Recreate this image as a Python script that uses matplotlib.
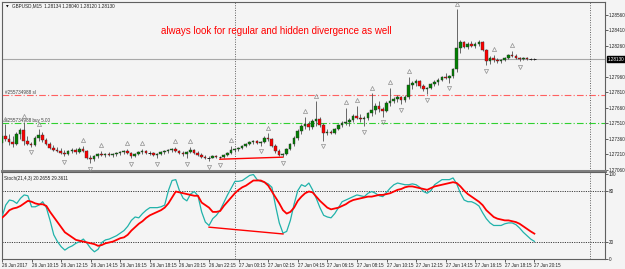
"""GBPUSD M15 candles with fractals and a Stochastic(21,4,3) pane, MT4 style."""

import numpy as np
import matplotlib
matplotlib.use("Agg")
import matplotlib.pyplot as plt
from matplotlib.transforms import offset_copy, blended_transform_factory

# ---------------------------------------------------------------------------
# Data
# ---------------------------------------------------------------------------

opens = [
    1.2732, 1.2738, 1.2736, 1.2733, 1.2731, 1.2740, 1.2744, 1.2734, 1.2731, 1.2730,
    1.2737, 1.2739, 1.2735, 1.2731, 1.2727, 1.2725, 1.2724, 1.2722, 1.2721, 1.2724,
    1.2725, 1.2723, 1.2726, 1.2724, 1.2717, 1.2716, 1.2719, 1.2721, 1.2720, 1.2721,
    1.2720, 1.2721, 1.2722, 1.2723, 1.2724, 1.2722, 1.2719, 1.2721, 1.2723, 1.2724,
    1.2722, 1.2722, 1.2720, 1.2721, 1.2723, 1.2724, 1.2725, 1.2726, 1.2724, 1.2722,
    1.2721, 1.2723, 1.2725, 1.2722, 1.2720, 1.2718, 1.2717, 1.2717, 1.2719, 1.2718,
    1.2718, 1.2720, 1.2722, 1.2725, 1.2726, 1.2727, 1.2729, 1.2731, 1.2733, 1.2734,
    1.2732, 1.2733, 1.2737, 1.2736, 1.2729, 1.2724, 1.2720, 1.2721, 1.2726, 1.2731,
    1.2737, 1.2743, 1.2748, 1.2750, 1.2747, 1.2753, 1.2755, 1.2749, 1.2741, 1.2742,
    1.2741, 1.2745, 1.2749, 1.2751, 1.2752, 1.2754, 1.2758, 1.2756, 1.2755, 1.2756,
    1.2761, 1.2764, 1.2768, 1.2765, 1.2763, 1.2770, 1.2772, 1.2774, 1.2776, 1.2773,
    1.2776, 1.2788, 1.2790, 1.2792, 1.2787, 1.2784, 1.2785, 1.2789, 1.2791, 1.2793,
    1.2796, 1.2795, 1.2797, 1.2803, 1.2824, 1.2829, 1.2825, 1.2828, 1.2826, 1.2828,
    1.2829, 1.2822, 1.2811, 1.2814, 1.2812, 1.2811, 1.2812, 1.2814, 1.2817, 1.2816,
    1.2814, 1.2813, 1.2814, 1.2813, 1.2813,
]
highs = [
    1.2740, 1.2750, 1.2740, 1.2738, 1.2742, 1.2746, 1.2752, 1.2738, 1.2733, 1.2738,
    1.2745, 1.2742, 1.2737, 1.2733, 1.2730, 1.2728, 1.2727, 1.2725, 1.2725, 1.2727,
    1.2727, 1.2728, 1.2729, 1.2725, 1.2720, 1.2720, 1.2722, 1.2724, 1.2722, 1.2723,
    1.2722, 1.2723, 1.2724, 1.2725, 1.2726, 1.2723, 1.2722, 1.2724, 1.2726, 1.2725,
    1.2724, 1.2723, 1.2722, 1.2724, 1.2725, 1.2726, 1.2727, 1.2728, 1.2725, 1.2724,
    1.2724, 1.2728, 1.2726, 1.2724, 1.2722, 1.2720, 1.2719, 1.2720, 1.2720, 1.2719,
    1.2721, 1.2723, 1.2729, 1.2727, 1.2728, 1.2730, 1.2732, 1.2734, 1.2735, 1.2735,
    1.2734, 1.2738, 1.2741, 1.2737, 1.2731, 1.2726, 1.2722, 1.2727, 1.2732, 1.2738,
    1.2745, 1.2750, 1.2757, 1.2753, 1.2755, 1.2772, 1.2757, 1.2751, 1.2745, 1.2744,
    1.2746, 1.2750, 1.2753, 1.2766, 1.2756, 1.2760, 1.2768, 1.2760, 1.2758, 1.2762,
    1.2780, 1.2770, 1.2772, 1.2767, 1.2772, 1.2785, 1.2776, 1.2778, 1.2777, 1.2778,
    1.2796, 1.2792, 1.2794, 1.2793, 1.2789, 1.2786, 1.2790, 1.2793, 1.2795, 1.2797,
    1.2799, 1.2798, 1.2804, 1.2861, 1.2831, 1.2830, 1.2829, 1.2830, 1.2829, 1.2831,
    1.2830, 1.2823, 1.2816, 1.2817, 1.2814, 1.2813, 1.2815, 1.2818, 1.2821, 1.2818,
    1.2815, 1.2815, 1.2815, 1.2814, 1.2814,
]
lows = [
    1.2726, 1.2734, 1.2730, 1.2728, 1.2730, 1.2736, 1.2730, 1.2730, 1.2728, 1.2729,
    1.2734, 1.2733, 1.2730, 1.2726, 1.2724, 1.2723, 1.2721, 1.2719, 1.2720, 1.2722,
    1.2721, 1.2722, 1.2723, 1.2716, 1.2712, 1.2714, 1.2717, 1.2719, 1.2718, 1.2719,
    1.2718, 1.2719, 1.2720, 1.2721, 1.2721, 1.2717, 1.2718, 1.2720, 1.2721, 1.2721,
    1.2720, 1.2719, 1.2717, 1.2720, 1.2721, 1.2722, 1.2723, 1.2723, 1.2721, 1.2719,
    1.2717, 1.2722, 1.2721, 1.2719, 1.2717, 1.2716, 1.2714, 1.2717, 1.2717, 1.2716,
    1.2717, 1.2719, 1.2721, 1.2723, 1.2724, 1.2726, 1.2728, 1.2730, 1.2731, 1.2731,
    1.2729, 1.2732, 1.2734, 1.2728, 1.2722, 1.2719, 1.2718, 1.2720, 1.2725, 1.2729,
    1.2735, 1.2740, 1.2745, 1.2744, 1.2745, 1.2748, 1.2747, 1.2734, 1.2739, 1.2740,
    1.2740, 1.2744, 1.2747, 1.2749, 1.2748, 1.2752, 1.2755, 1.2752, 1.2748, 1.2754,
    1.2758, 1.2760, 1.2762, 1.2757, 1.2762, 1.2768, 1.2770, 1.2771, 1.2769, 1.2771,
    1.2774, 1.2784, 1.2787, 1.2785, 1.2782, 1.2779, 1.2784, 1.2787, 1.2788, 1.2792,
    1.2794, 1.2790, 1.2795, 1.2800, 1.2819, 1.2824, 1.2823, 1.2825, 1.2824, 1.2826,
    1.2821, 1.2807, 1.2808, 1.2810, 1.2809, 1.2809, 1.2811, 1.2813, 1.2815, 1.2813,
    1.2811, 1.2812, 1.2812, 1.2812, 1.2812,
]
closes = [
    1.2738, 1.2736, 1.2733, 1.2731, 1.2740, 1.2744, 1.2734, 1.2731, 1.2730, 1.2737,
    1.2739, 1.2735, 1.2731, 1.2727, 1.2725, 1.2724, 1.2722, 1.2721, 1.2724, 1.2725,
    1.2723, 1.2726, 1.2724, 1.2717, 1.2716, 1.2719, 1.2721, 1.2720, 1.2721, 1.2720,
    1.2721, 1.2722, 1.2723, 1.2724, 1.2722, 1.2719, 1.2721, 1.2723, 1.2724, 1.2722,
    1.2722, 1.2720, 1.2721, 1.2723, 1.2724, 1.2725, 1.2726, 1.2724, 1.2722, 1.2721,
    1.2723, 1.2725, 1.2722, 1.2720, 1.2718, 1.2717, 1.2717, 1.2719, 1.2718, 1.2718,
    1.2720, 1.2722, 1.2725, 1.2726, 1.2727, 1.2729, 1.2731, 1.2733, 1.2734, 1.2732,
    1.2733, 1.2737, 1.2736, 1.2729, 1.2724, 1.2720, 1.2721, 1.2726, 1.2731, 1.2737,
    1.2743, 1.2748, 1.2750, 1.2747, 1.2753, 1.2755, 1.2749, 1.2741, 1.2742, 1.2741,
    1.2745, 1.2749, 1.2751, 1.2752, 1.2754, 1.2758, 1.2756, 1.2755, 1.2756, 1.2761,
    1.2764, 1.2768, 1.2765, 1.2763, 1.2770, 1.2772, 1.2774, 1.2776, 1.2773, 1.2776,
    1.2788, 1.2790, 1.2792, 1.2787, 1.2784, 1.2785, 1.2789, 1.2791, 1.2793, 1.2796,
    1.2795, 1.2797, 1.2803, 1.2824, 1.2829, 1.2825, 1.2828, 1.2826, 1.2828, 1.2829,
    1.2822, 1.2811, 1.2814, 1.2812, 1.2811, 1.2812, 1.2814, 1.2817, 1.2816, 1.2814,
    1.2813, 1.2814, 1.2813, 1.2813, 1.2813,
]

# fractal bars (indices into the bar lists)
fractal_up = [1, 6, 10, 22, 27, 34, 38, 47, 51, 62, 72, 82, 85, 93, 96, 100,
              105, 110, 123, 133, 138]
fractal_down = [8, 17, 24, 35, 42, 50, 56, 59, 70, 76, 87, 98, 103, 108, 115,
                121, 131, 140]

stoch_main = [
    49, 63, 69, 68, 65, 71, 75, 74, 61, 61, 63, 67, 60, 45, 28, 20, 14, 10, 13, 15,
    18, 20, 23, 18, 12, 8, 11, 19, 22, 23, 25, 27, 30, 33, 38, 45, 49, 48, 53, 57,
    60, 60, 60, 61, 63, 80, 92, 93, 80, 71, 68, 76, 79, 74, 55, 43, 39, 47, 51, 57,
    66, 75, 83, 91, 91, 92, 95, 98, 99, 93, 91, 90, 88, 84, 62, 42, 30, 32, 45, 64,
    80, 87, 85, 89, 81, 71, 60, 51, 49, 48, 53, 60, 67, 69, 71, 73, 75, 74, 73, 77,
    79, 77, 74, 73, 78, 83, 87, 89, 88, 87, 87, 88, 87, 84, 79, 77, 80, 87, 90, 93,
    93, 93, 95, 88, 77, 69, 67, 67, 65, 62, 54, 47, 42, 39, 39, 39, 41, 42, 42, 40,
    36, 31, 27, 23, 20.27,
]
stoch_signal = [
    48, 52, 57, 59, 60, 62, 65, 68, 67, 65, 64, 64, 62, 55, 49, 43, 37, 31, 28, 25,
    22, 21, 20, 19, 18, 17, 15, 16, 18, 19, 20, 22, 24, 25, 28, 33, 37, 41, 44, 48,
    51, 53, 55, 57, 60, 65, 72, 79, 78, 77, 76, 75, 74, 74, 66, 63, 60, 55, 55, 56,
    62, 67, 72, 77, 81, 84, 86, 89, 92, 92, 92, 90, 86, 79, 72, 65, 57, 53, 55, 60,
    68, 73, 77, 79, 78, 73, 68, 64, 60, 58, 59, 60, 62, 64, 67, 69, 70, 71, 72, 73,
    73, 74, 75, 75, 76, 77, 79, 81, 82, 84, 85, 85, 84, 83, 82, 81, 83, 85, 86, 87,
    88, 89, 90, 89, 85, 80, 76, 73, 70, 67, 63, 57, 53, 49, 47, 46, 45, 45, 44, 43,
    41, 38, 35, 32, 29.36,
]

# divergence lines drawn by hand on the chart (bar, value)
price_div_bars = [59, 76]
price_div_values = [1.2716, 1.2718]
stoch_div_bars = [56, 76]
stoch_div_values = [37, 29]

tick_bars = [0, 8, 16, 24, 32, 40, 48, 56, 64, 72, 80, 88, 96, 104, 112, 120, 128, 136, 144]
tick_labels = [
    "26 Jun 2017", "26 Jun 10:15", "26 Jun 12:15", "26 Jun 14:15", "26 Jun 16:15",
    "26 Jun 18:15", "26 Jun 20:15", "26 Jun 22:15", "27 Jun 00:15", "27 Jun 02:15",
    "27 Jun 04:15", "27 Jun 06:15", "27 Jun 08:15", "27 Jun 10:15", "27 Jun 12:15",
    "27 Jun 14:15", "27 Jun 16:15", "27 Jun 18:15", "27 Jun 20:15",
]

price_ticks = [1.27060, 1.27210, 1.27360, 1.27510, 1.27660, 1.27810, 1.27960,
               1.28260, 1.28410, 1.28560]
bid_price = 1.28130
sl_price = 1.2778
buy_price = 1.2751
day_separators = [63, 159]

title_text = "GBPUSD,M15  1.28134 1.28040 1.28120 1.28130"
note_text = "always look for regular and hidden divergence as well"
stoch_text = "Stoch(21,4,3) 20.2655 29.3611"

# ---------------------------------------------------------------------------
# Figure
# ---------------------------------------------------------------------------

BG = "#f4f4f4"
FS = 3.3
plt.rcParams["font.family"] = ["Liberation Sans", "DejaVu Sans"]

fig = plt.figure(figsize=(6.25, 2.69), dpi=100, facecolor=BG)
ax = fig.add_axes([2 / 625, 1 - 171 / 269, 603 / 625, 169 / 269], facecolor=BG)
ax2 = fig.add_axes([2 / 625, 1 - 259 / 269, 603 / 625, 87 / 269], facecolor=BG)

n = len(closes)
x = np.arange(n)
o, h, l, c = map(np.array, (opens, highs, lows, closes))

# candles
for i in range(n):
    up = c[i] >= o[i]
    ax.vlines(x[i], l[i], h[i], color="#505050", lw=0.6, zorder=2)
    body = abs(c[i] - o[i])
    if body < 0.00003:
        ax.hlines(c[i], x[i] - 0.35, x[i] + 0.35, color="#202020", lw=0.7, zorder=3)
    else:
        ax.bar(x[i], body, bottom=min(o[i], c[i]), width=0.7,
               color="#008000" if up else "#ff0000", edgecolor="#303030",
               linewidth=0.3, zorder=3)

# fractals
up_tr = offset_copy(ax.transData, fig=fig, y=4, units="points")
dn_tr = offset_copy(ax.transData, fig=fig, y=-4, units="points")
ax.plot(fractal_up, h[fractal_up], ls="none", marker="^", ms=3, mfc="none",
        mec="#909090", mew=0.5, transform=up_tr, zorder=4)
ax.plot(fractal_down, l[fractal_down], ls="none", marker="v", ms=3, mfc="none",
        mec="#909090", mew=0.5, transform=dn_tr, zorder=4)

# horizontal levels
ax.axhline(bid_price, color="#a8a8a8", lw=0.8, zorder=1)
ax.axhline(sl_price, color="#ff6060", lw=0.8, ls=(0, (6, 2, 1, 2)), zorder=1)
ax.axhline(buy_price, color="#30d030", lw=0.8, ls=(0, (6, 2, 1, 2)), zorder=1)
ax.text(1.0, sl_price, "#255734988 sl", fontsize=FS, color="#404040",
        va="bottom", ha="left")
ax.text(1.0, buy_price, "#255734988 buy 5.00", fontsize=FS, color="#404040",
        va="bottom", ha="left")

ax.plot(price_div_bars, price_div_values, color="#ff0000", lw=1.0, zorder=5)

for d in day_separators:
    ax.axvline(d, color="#606060", lw=0.7, ls=(0, (1, 1.5)), zorder=1)
    ax2.axvline(d, color="#606060", lw=0.7, ls=(0, (1, 1.5)), zorder=1)

ax.text(0.006, 0.985, "\u25BC", transform=ax.transAxes, fontsize=2.5, va="top",
        ha="left", family="DejaVu Sans")
ax.text(0.016, 0.99, title_text, transform=ax.transAxes, fontsize=FS,
        va="top", ha="left", color="#202020")
ax.text(0.455, 0.83, note_text, transform=ax.transAxes, fontsize=7.0,
        color="#ff0000", ha="center", va="center")

ax.set_xlim(0.13, 163.1)
ax.set_ylim(1.27046, 1.28682)
ax.set_xticks([])
ax.yaxis.tick_right()
ax.set_yticks(price_ticks)
ax.set_yticklabels([f"{v:.5f}" for v in price_ticks], fontsize=FS)
ax.tick_params(axis="y", length=2, width=0.5, pad=1, colors="#202020")

# current price box
tr = blended_transform_factory(ax.transAxes, ax.transData)
ax.text(1.005, bid_price, f"{bid_price:.5f}", transform=tr, fontsize=FS,
        color="white", va="center", ha="left",
        bbox=dict(boxstyle="square,pad=0.2", fc="black", ec="black"))

for s in ax.spines.values():
    s.set_color("#606060")
    s.set_linewidth(0.8)
ax.spines["bottom"].set_color("#808080")
ax.spines["bottom"].set_linewidth(2.2)

# stochastic pane
ax2.plot(x, stoch_main, color="#20b2aa", lw=0.9, zorder=3)
ax2.plot(x, stoch_signal, color="#ff0000", lw=1.3, zorder=4)
ax2.plot(stoch_div_bars, stoch_div_values, color="#ff0000", lw=1.0, zorder=5)
for lvl in (80, 20):
    ax2.axhline(lvl, color="#404040", lw=0.7, ls=(0, (1.2, 1.2)), zorder=1)
ax2.text(0.004, 0.95, stoch_text, transform=ax2.transAxes, fontsize=FS,
         va="top", ha="left", color="#202020")

ax2.set_xlim(ax.get_xlim())
ax2.set_ylim(-0.5, 102)
ax2.yaxis.tick_right()
ax2.set_yticks([0, 20, 80, 100])
ax2.set_yticklabels(["0", "20", "80", "100"], fontsize=FS)
ax2.tick_params(axis="y", length=2, width=0.5, pad=1, colors="#202020")
ax2.set_xticks(tick_bars)
ax2.set_xticklabels(tick_labels, fontsize=FS, ha="left")
ax2.tick_params(axis="x", length=2, width=0.5, pad=1, colors="#202020")
for s in ax2.spines.values():
    s.set_color("#606060")
    s.set_linewidth(0.8)

fig.savefig("out.png", dpi=100, facecolor=BG)
